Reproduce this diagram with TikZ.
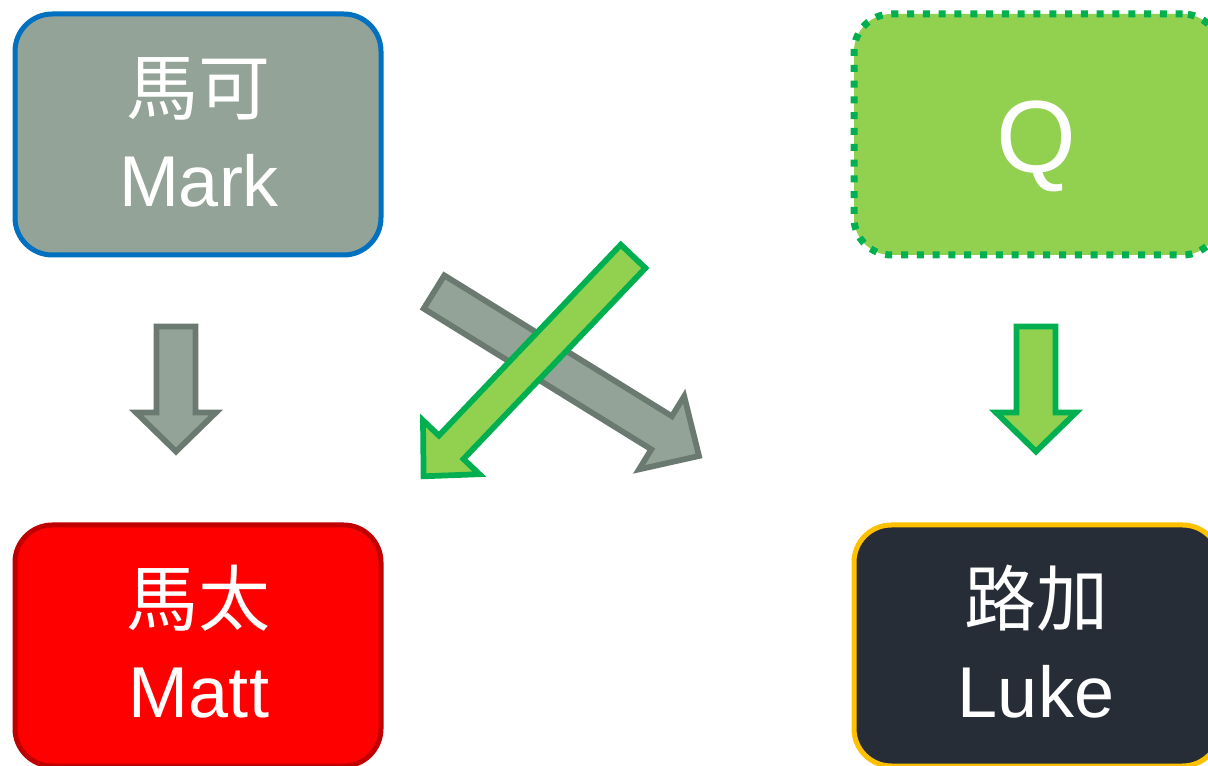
\documentclass[tikz,border=0pt]{standalone}
\usepackage{fontspec}
\setmainfont{Liberation Sans}
\newfontfamily\cjk{Noto Sans CJK TC}
\usepackage{tikz}
\definecolor{sagefill}{HTML}{94A397}
\definecolor{sageline}{HTML}{6B7A70}
\definecolor{markblue}{HTML}{0070C0}
\definecolor{qgreen}{HTML}{92D050}
\definecolor{qline}{HTML}{00B050}
\definecolor{mattred}{HTML}{FF0000}
\definecolor{mattline}{HTML}{C00000}
\definecolor{lukefill}{HTML}{272D36}
\definecolor{lukeline}{HTML}{FFC000}

\begin{document}
\begin{tikzpicture}[x=0.75pt,y=0.75pt,yscale=-1,xscale=1,
  card/.style={rounded corners=28pt, line width=3.75pt, minimum width=274.5pt, minimum height=180.75pt, inner sep=0pt},
  entext/.style={anchor=base, inner sep=0pt, text=white, font=\fontsize{54}{64}\selectfont},
  zhtext/.style={anchor=base, inner sep=0pt, text=white, font=\cjk\fontsize{54}{64}\selectfont},
  grayarr/.style={fill=sagefill, draw=sageline, line width=4.3pt},
  greenarr/.style={fill=qgreen, draw=qline, line width=4.3pt}]
%set diagram to the page size
\useasboundingbox (0,0) rectangle (1208,766);

%Shape: Rounded Rect
\node [card, fill=sagefill, draw=markblue] (mark) at (198,134.5) {};
%Shape: Rounded Rect
\node [card, fill=qgreen, draw=qline, line width=5.25pt, dash pattern=on 5.25pt off 6.6pt] (q) at (1037,134.5) {};
%Shape: Rounded Rect
\node [card, fill=mattred, draw=mattline] (matt) at (198,645.5) {};
%Shape: Rounded Rect
\node [card, fill=lukefill, draw=lukeline] (luke) at (1037,645.5) {};

%Shape: Down Arrow
\draw [grayarr] (156.5,326.5) -- (195.5,326.5) -- (195.5,412.5) -- (216,412.5) -- (176,451.5) -- (136,412.5) -- (156.5,412.5) -- cycle ;
%Shape: Down Arrow
\draw [greenarr] (1016.5,326.5) -- (1055.5,326.5) -- (1055.5,412.5) -- (1076,412.5) -- (1036,451.5) -- (996,412.5) -- (1016.5,412.5) -- cycle ;
%Shape: Right Arrow
\draw [grayarr] (444.3,275.4) -- (671.9,416.2) -- (684.2,396.2) -- (699,456) -- (639,469.4) -- (651.3,449.4) -- (423.7,308.6) -- cycle ;
%Shape: Right Arrow
\draw [greenarr] (620.8,244.7) -- (645.4,268.1) -- (463.5,459) -- (479.4,474.2) -- (423.6,476.3) -- (423,420.4) -- (438.9,435.6) -- cycle ;

% Text Node
\node [zhtext] (markzh) at (198,115) {馬可};
% Text Node
\node [entext] (marken) at (199,207) {Mark};
% Text Node
\node [entext, font=\fontsize{77}{90}\selectfont] (qlabel) at (1036,173) {Q};
% Text Node
\node [zhtext] (mattzh) at (198,626) {馬太};
% Text Node
\node [entext] (matten) at (199,718) {Matt};
% Text Node
\node [zhtext] (lukezh) at (1036,626) {路加};
% Text Node
\node [entext] (lukeen) at (1036,718) {Luke};

\end{tikzpicture}
\end{document}
